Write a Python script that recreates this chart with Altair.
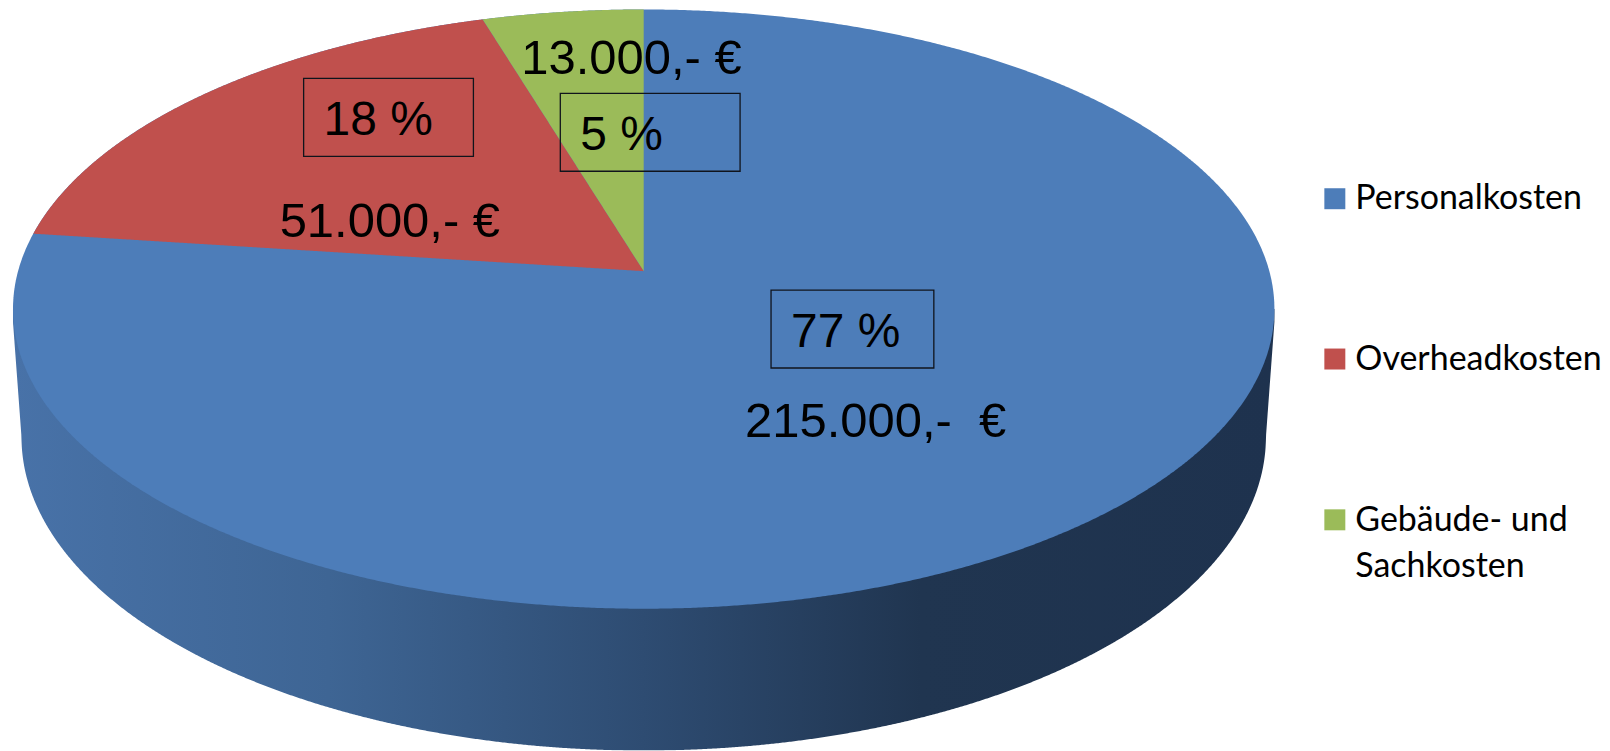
import numpy as np
import pandas as pd
import altair as alt

# ---- chart values ----
categories = ["Personalkosten", "Overheadkosten", "Gebäude- und\nSachkosten"]
costs = [215000, 51000, 13000]
colors = ["#4D7DB9", "#C0504D", "#9BBB59"]
percent_labels = ["77 %", "18 %", "5 %"]
euro_labels = ["215.000,- \u00a0€", "51.000,- €", "13.000,- €"]

# ---- layout, in page pixels of the picture ----
W, H, M = 1610, 751, 8
PLOT_W = W - 2 * M                              # wider than this and the page shrinks the chart
PLOT_H = H - M                                  # runs off the window's bottom edge, as the original
CX, CY, A, B = 644.5, 309.0, 631.5, 300.0      # ellipse of the pie's top face
APEX_Y = 271.0                                  # where the pie's centre is seen
BOT_CY, BOT_A, BOT_B = 437.0, 623.0, 314.0      # lower rim of the side wall
SIDE_START = 322.0

percent_pos = [(792, 347), (324, 135), (581, 150)]
euro_pos = [(746, 437), (280, 237), (522, 74)]
box_pos = [(772, 935, 290, 368), (304, 474, 78, 156), (561, 741, 93, 171)]
legend_sq = [(1336.5, 198.5), (1336.5, 359), (1336.5, 520)]
legend_txt = [(1357, 209), (1357, 370), (1357, 531.5)]


def ux(px):
    return (np.asarray(px, dtype=float) - CX) / A


def uy(py):
    return (CY - np.asarray(py, dtype=float)) / B


# perspective: the disc's centre is seen at (0, y0) inside the unit ellipse
y0 = float(uy(APEX_Y))


def rim(share_ccw):
    """Rim point for a cumulative share measured anticlockwise from 12 o'clock."""
    t = 2 * np.pi * share_ccw
    u, v = -np.sin(t), np.cos(t)
    d = 1 + y0 * v
    return u * np.sqrt(1 - y0 ** 2) / d, (v + y0) / d


total = sum(costs)
green_x, green_y = rim(costs[2] / total)
red_x, red_y = rim((costs[2] + costs[1]) / total)

x_dom = [float(ux(M)), float(ux(M + PLOT_W))]
y_dom = [float(uy(M + PLOT_H)), float(uy(M))]
xs = alt.Scale(domain=x_dom, nice=False, zero=False)
ys = alt.Scale(domain=y_dom, nice=False, zero=False)
cs = alt.Scale(domain=categories, range=colors)

X = alt.X("x:Q", scale=xs, axis=None)
Y = alt.Y("y:Q", scale=ys, axis=None)
Y2 = alt.Y2("y2:Q")
C = alt.Color("cat:N", scale=cs, legend=None)


def edge(x):
    return np.sqrt(np.clip(1 - x ** 2, 0, 1))


# top face: whole ellipse first
tt = np.linspace(np.pi, 0, 721)
fx = np.cos(tt)
face = pd.DataFrame({"x": fx, "y": edge(fx), "y2": -edge(fx), "cat": categories[0]})

# red slice
rx = np.unique(np.concatenate([np.linspace(red_x, green_x, 400), np.linspace(green_x, 0, 100)]))
r_top = np.where(rx <= green_x, edge(rx), green_y + (y0 - green_y) * (rx - green_x) / (0 - green_x))
r_bot = red_y + (y0 - red_y) * (rx - red_x) / (0 - red_x)
red = pd.DataFrame({"x": rx, "y": r_top, "y2": r_bot, "cat": categories[1]})

# green slice
gx = np.linspace(green_x, 0, 200)
g_bot = green_y + (y0 - green_y) * (gx - green_x) / (0 - green_x)
green = pd.DataFrame({"x": gx, "y": edge(gx), "y2": g_bot, "cat": categories[2]})

# side wall
wx_px = CX + A * np.cos(np.linspace(np.pi, 0, 1201))
dx = wx_px - CX
inner = np.abs(dx) <= BOT_A
wy_px = np.where(
    inner,
    BOT_CY + BOT_B * np.sqrt(np.clip(1 - (dx / BOT_A) ** 2, 0, 1)),
    SIDE_START + (BOT_CY - SIDE_START) * (A - np.abs(dx)) / (A - BOT_A),
)
wall = pd.DataFrame({"x": ux(wx_px), "y": uy(wy_px), "y2": 0.0})

wall_gradient = alt.Gradient(
    gradient="linear", x1=0, x2=1, y1=0, y2=0,
    stops=[
        alt.GradientStop(offset=0.0, color="#4872A8"),
        alt.GradientStop(offset=0.25, color="#3E6594"),
        alt.GradientStop(offset=0.5, color="#2E4C72"),
        alt.GradientStop(offset=0.72, color="#203550"),
        alt.GradientStop(offset=1.0, color="#1E324E"),
    ],
)

wall_l = alt.Chart(wall).mark_area(color=wall_gradient, clip=True).encode(x=X, y=Y, y2=Y2)
face_l = alt.Chart(face).mark_area(clip=True).encode(x=X, y=Y, y2=Y2, color=C)
red_l = alt.Chart(red).mark_area(clip=True).encode(x=X, y=Y, y2=Y2, color=C)
green_l = alt.Chart(green).mark_area(clip=True).encode(x=X, y=Y, y2=Y2, color=C)

# framed percentage boxes
boxes = pd.DataFrame({
    "x": [float(ux(b[0])) for b in box_pos],
    "x2": [float(ux(b[1])) for b in box_pos],
    "y": [float(uy(b[2])) for b in box_pos],
    "y2": [float(uy(b[3])) for b in box_pos],
})
box_l = alt.Chart(boxes).mark_rect(fillOpacity=0, stroke="#10141c", strokeWidth=1.3).encode(
    x=X, x2="x2:Q", y=Y, y2=Y2
)


def text_frame(labels, pos):
    return pd.DataFrame({
        "x": [float(ux(p[0])) for p in pos],
        "y": [float(uy(p[1])) for p in pos],
        "t": labels,
    })


big = dict(align="left", baseline="alphabetic", font="Liberation Sans", color="#000000")
pct_l = alt.Chart(text_frame(percent_labels, percent_pos)).mark_text(fontSize=48, **big).encode(x=X, y=Y, text="t:N")
eur_l = alt.Chart(text_frame(euro_labels, euro_pos)).mark_text(fontSize=49, **big).encode(x=X, y=Y, text="t:N")

# legend on the right
leg_sq = pd.DataFrame({
    "x": [float(ux(p[0])) for p in legend_sq],
    "y": [float(uy(p[1])) for p in legend_sq],
    "cat": categories,
})
leg_sq_l = alt.Chart(leg_sq).mark_square(size=441, opacity=1).encode(x=X, y=Y, color=C)
leg_txt = text_frame([c.split("\n") for c in categories], legend_txt)
leg_txt_l = alt.Chart(leg_txt).mark_text(
    align="left", baseline="alphabetic", font="Lato", fontSize=34, lineHeight=46, color="#000000"
).encode(x=X, y=Y, text="t")

chart = (
    alt.layer(wall_l, face_l, red_l, green_l, box_l, pct_l, eur_l, leg_sq_l, leg_txt_l)
    .properties(width=PLOT_W, height=PLOT_H, padding=0, background="#ffffff")
    .configure_view(stroke=None)
)
chart.save("out.html", embed_options={"renderer": "svg", "actions": False})
